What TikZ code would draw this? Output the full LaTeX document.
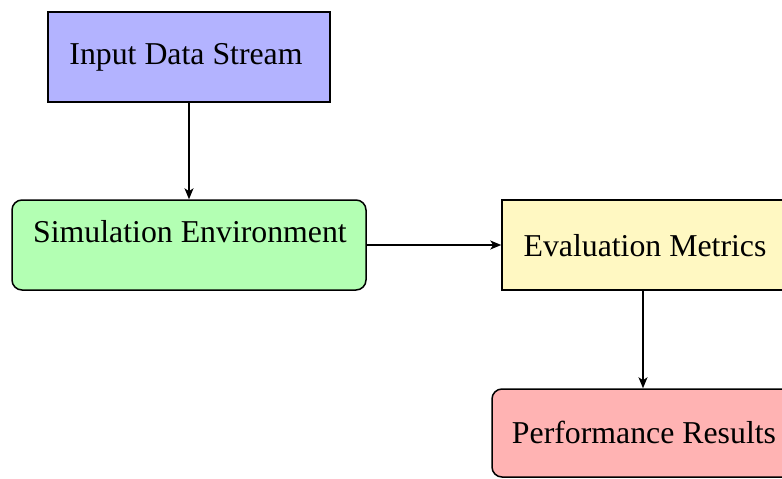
\documentclass[tikz,border=0pt]{standalone}
\usepackage{fontspec}
\setmainfont{Liberation Serif}
\usetikzlibrary{arrows.meta}
\definecolor{cblue}{RGB}{179,179,255}
\definecolor{cgreen}{RGB}{179,255,179}
\definecolor{cyellow}{RGB}{255,248,194}
\definecolor{cred}{RGB}{255,179,179}
\tikzset{
  box/.style={draw=black, line width=1.5pt, inner sep=0pt},
  lbl/.style={anchor=base, inner sep=0pt, font=\fontsize{31.8}{38}\selectfont},
  conn/.style={line width=1.5pt, -{Stealth[length=11pt,width=9pt,inset=3pt]}}
}
\begin{document}
\begin{tikzpicture}[x=1pt,y=-1pt]
\useasboundingbox (0,0) rectangle (782,479);
% boxes
\node[box, fill=cblue, minimum width=282pt, minimum height=90pt] (inp) at (189,57) {};
\node[box, fill=cgreen, rounded corners=10pt, minimum width=354pt, minimum height=90pt] (sim) at (189,245) {};
\node[box, fill=cyellow, minimum width=282pt, minimum height=90pt] (eval) at (643,245) {};
\node[box, fill=cred, rounded corners=10pt, minimum width=302pt, minimum height=88pt] (perf) at (643,433) {};
% labels
\node[lbl] (tinp) at (186,64) {Input Data Stream};
\node[lbl] (tsim) at (190,242) {Simulation Environment};
\node[lbl] (teval) at (645,256) {Evaluation Metrics};
\node[lbl] (tperf) at (644,443) {Performance Results};
% connectors
\draw[conn] (inp.south) -- (sim.north);
\draw[conn] (sim.east) -- (eval.west);
\draw[conn] (eval.south) -- (perf.north);
\end{tikzpicture}
\end{document}
